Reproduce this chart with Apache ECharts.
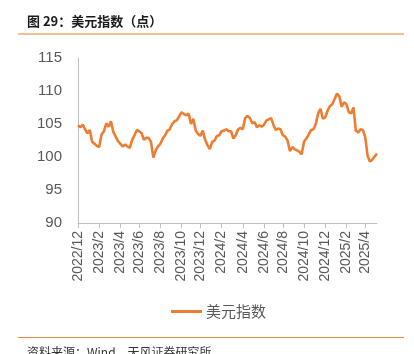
<!DOCTYPE html>
<html><head><meta charset="utf-8">
<script src="https://cdn.jsdelivr.net/npm/echarts@6/dist/echarts.min.js"></script>
<style>html,body{margin:0;padding:0;background:#fff}#c{width:414px;height:354px}</style>
</head><body><div id="c"></div>
<script>
// Weekly (Friday) dates
const dates = [
"2022/12/02","2022/12/09","2022/12/16","2022/12/23","2022/12/30",
"2023/01/06","2023/01/13","2023/01/20","2023/01/27","2023/02/03","2023/02/10","2023/02/17","2023/02/24",
"2023/03/03","2023/03/10","2023/03/17","2023/03/24","2023/03/31","2023/04/07","2023/04/14","2023/04/21","2023/04/28",
"2023/05/05","2023/05/12","2023/05/19","2023/05/26","2023/06/02","2023/06/09","2023/06/16","2023/06/23","2023/06/30",
"2023/07/07","2023/07/14","2023/07/21","2023/07/28","2023/08/04","2023/08/11","2023/08/18","2023/08/25",
"2023/09/01","2023/09/08","2023/09/15","2023/09/22","2023/09/29","2023/10/06","2023/10/13","2023/10/20","2023/10/27",
"2023/11/03","2023/11/10","2023/11/17","2023/11/24","2023/12/01","2023/12/08","2023/12/15","2023/12/22","2023/12/29",
"2024/01/05","2024/01/12","2024/01/19","2024/01/26","2024/02/02","2024/02/09","2024/02/16","2024/02/23",
"2024/03/01","2024/03/08","2024/03/15","2024/03/22","2024/03/29","2024/04/05","2024/04/12","2024/04/19","2024/04/26",
"2024/05/03","2024/05/10","2024/05/17","2024/05/24","2024/05/31","2024/06/07","2024/06/14","2024/06/21","2024/06/28",
"2024/07/05","2024/07/12","2024/07/19","2024/07/26","2024/08/02","2024/08/09","2024/08/16","2024/08/23","2024/08/30",
"2024/09/06","2024/09/13","2024/09/20","2024/09/27","2024/10/04","2024/10/11","2024/10/18","2024/10/25",
"2024/11/01","2024/11/08","2024/11/15","2024/11/22","2024/11/29","2024/12/06","2024/12/13","2024/12/20","2024/12/27",
"2025/01/03","2025/01/10","2025/01/17","2025/01/24","2025/01/31","2025/02/07","2025/02/14","2025/02/21","2025/02/28",
"2025/03/07","2025/03/14","2025/03/21","2025/03/28","2025/04/04","2025/04/11","2025/04/18","2025/04/25",
"2025/05/02","2025/05/09"
];
const dxy = [
104.8,104.5,104.9,104.2,103.6,
104.1,102.3,102.0,101.7,101.5,103.4,103.9,105.1,
104.6,105.4,103.8,103.1,102.4,102.0,101.6,101.9,101.6,
101.4,102.6,103.3,104.1,103.9,103.6,102.6,102.9,102.9,
102.3,99.9,101.0,101.6,102.0,102.8,103.3,104.0,
104.2,105.0,105.4,105.6,106.2,106.8,106.5,106.3,106.6,
105.0,105.8,104.0,103.5,103.2,104.0,102.6,101.8,101.2,
102.3,102.5,103.2,103.3,103.9,104.0,104.2,103.9,
103.9,102.8,103.3,104.2,104.4,104.2,105.9,106.2,105.9,
105.1,105.3,104.5,104.8,104.6,104.9,105.5,105.7,105.9,
104.9,104.1,104.3,104.2,103.3,103.1,102.5,100.9,101.5,
101.2,101.0,100.8,100.4,102.3,102.8,103.4,104.1,
104.2,105.0,106.6,107.3,105.8,106.0,107.0,107.7,108.0,
108.8,109.6,109.2,107.6,108.3,108.0,106.8,106.6,107.5,
104.0,103.7,104.2,104.1,103.0,100.2,99.3,99.6,
100.1,100.5
];
const seriesName = "美元指数";
const yTicks = [90, 95, 100, 105, 110, 115];

function isLabelIdx(i){
  const m = parseInt(dates[i].slice(5,7),10);
  if (m % 2 !== 0) return false;
  if (i === 0) return true;
  return dates[i-1].slice(5,7) !== dates[i].slice(5,7);
}

const chart = echarts.init(document.getElementById('c'), null, {renderer:'canvas'});
const NUMF = '"Liberation Sans", Arial, "Noto Sans CJK SC", sans-serif';
chart.setOption({
  animation:false,
  backgroundColor:'#fff',
  grid:{left:78, right:37, top:58, bottom:131, containLabel:false},
  legend:{
    data:[seriesName], left:166, top:299,
    itemWidth:31, itemHeight:3, itemGap:6,
    icon:'rect',
    textStyle:{fontSize:15, color:'#595959', fontFamily:'"Noto Sans CJK SC", sans-serif', padding:[0,0,0,-1]}
  },
  xAxis:{
    type:'category', data:dates, boundaryGap:false,
    axisLine:{lineStyle:{color:'#bfbfbf', width:1}},
    axisTick:{show:true, interval:(i)=>isLabelIdx(i), length:5, lineStyle:{color:'#bfbfbf'}},
    axisLabel:{
      interval:(i)=>isLabelIdx(i), rotate:90, margin:8,
      color:'#595959', fontSize:14, fontFamily:NUMF,
      formatter:(v)=>{const p=v.split('/');return p[0]+'/'+parseInt(p[1],10);}
    },
    splitLine:{show:false}
  },
  yAxis:{
    type:'value', min:yTicks[0], max:yTicks[yTicks.length-1], interval:5,
    axisLine:{show:true, lineStyle:{color:'#bfbfbf', width:1}},
    axisTick:{show:false},
    axisLabel:{color:'#595959', fontSize:15, margin:16, fontFamily:NUMF},
    splitLine:{show:false}
  },
  series:[{
    name:seriesName, type:'line', data:dxy, showSymbol:false, symbol:'none',
    lineStyle:{color:'#ED7D31', width:2.6}, itemStyle:{color:'#ED7D31'}
  }],
  graphic:[
    {type:'text', left:27, top:15, style:{text:'图 29：美元指数（点）', fill:'#1a1a1a', font:'bold 13px "Noto Sans CJK SC", sans-serif'}},
    {type:'line', shape:{x1:18,y1:34,x2:404,y2:34}, style:{stroke:'#F4A86A', lineWidth:1.5}},
    {type:'line', shape:{x1:18,y1:337.5,x2:404,y2:337.5}, style:{stroke:'#F08A3C', lineWidth:1}},
    {type:'text', left:27, top:346, style:{text:'资料来源：Wind，天风证券研究所', fill:'#333', font:'12px "Noto Sans CJK SC", sans-serif'}}
  ]
});
</script></body></html>
